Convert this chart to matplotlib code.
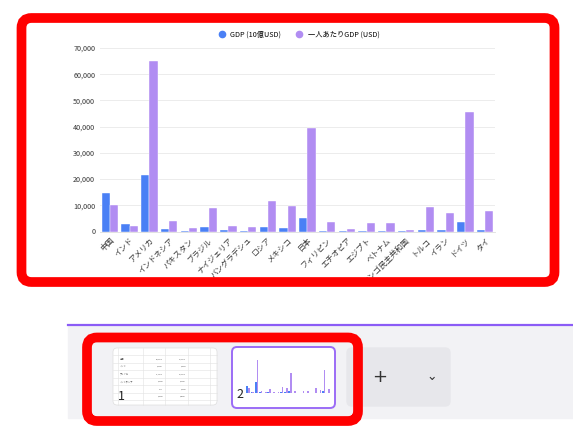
import numpy as np
import matplotlib
matplotlib.use("Agg")
import matplotlib.pyplot as plt
from matplotlib.patches import FancyBboxPatch, Rectangle
from matplotlib.lines import Line2D
from matplotlib.transforms import Affine2D

plt.rcParams["font.family"] = ["Noto Sans CJK JP", "DejaVu Sans"]

countries = ["中国", "インド", "アメリカ", "インドネシア", "パキスタン", "ブラジル",
             "ナイジェリア", "バングラデシュ", "ロシア", "メキシコ", "日本", "フィリピン",
             "エチオピア", "エジプト", "ベトナム", "コンゴ民主共和国", "トルコ", "イラン",
             "ドイツ", "タイ"]
gdp_billion = [14600, 2800, 21400, 1100, 300, 1900, 450, 300, 1700, 1250,
               5000, 380, 100, 300, 260, 50, 760, 500, 3800, 540]
gdp_per_capita = [10200, 1950, 65200, 4100, 1300, 9000, 2100, 1800, 11500, 9900,
                  39500, 3500, 850, 3100, 3400, 580, 9300, 7000, 45600, 7800]
series_labels = ["GDP (10億USD)", "一人あたりGDP (USD)"]
yticks = [0, 10000, 20000, 30000, 40000, 50000, 60000, 70000]

BLUE = "#4a80f5"
PURPLE = "#b18df2"
W, H = 573, 443

fig = plt.figure(figsize=(W / 100, H / 100), dpi=100)
fig.patch.set_facecolor("white")
# pixel coords, origin top-left
px = Affine2D().scale(1, -1).translate(0, H).scale(1 / 100) + fig.dpi_scale_trans


def fx(x):
    return x / W


def fy(y):
    return 1 - y / H


# ---- main chart ----
ax = fig.add_axes([fx(100), fy(231.5), fx(495) - fx(100), fy(48) - fy(231.5)])
x = np.arange(len(countries))
bw = 0.42
ax.bar(x - bw / 2, gdp_billion, bw, color=BLUE, edgecolor="white", linewidth=0.3, zorder=2)
ax.bar(x + bw / 2, gdp_per_capita, bw, color=PURPLE, edgecolor="white", linewidth=0.3, zorder=2)
ax.set_xlim(-0.5, len(countries) - 0.5)
ax.set_ylim(0, 70000)
ax.set_yticks(yticks)
ax.set_yticklabels([f"{v:,}" for v in yticks], fontsize=5.2, color="#333333")
ax.set_xticks(x)
ax.set_xticklabels(countries, fontsize=5.6, color="#333333", rotation=45,
                   ha="right", va="top", rotation_mode="anchor")
ax.tick_params(length=0, pad=3.5)
ax.grid(axis="y", color="#ececec", linewidth=0.7, zorder=0)
for s in ["top", "right", "left"]:
    ax.spines[s].set_visible(False)
ax.spines["bottom"].set_color("#dddddd")
ax.spines["bottom"].set_linewidth(0.6)

handles = [Line2D([], [], marker="o", linestyle="", color=BLUE, markersize=4.5),
           Line2D([], [], marker="o", linestyle="", color=PURPLE, markersize=4.5)]
fig.legend(handles, series_labels, loc="center", bbox_to_anchor=(fx(297), fy(35)),
           ncol=2, frameon=False, fontsize=5.2, handletextpad=0.2,
           columnspacing=1.5, borderpad=0)

# ---- red frame around chart ----
fig.patches.append(FancyBboxPatch((21.5, 18), 533, 264, boxstyle="round,pad=0,rounding_size=10",
                                  transform=px, fill=False, edgecolor="#ff0000",
                                  linewidth=7, zorder=10))
# white mask below frame to clip long labels
fig.patches.append(Rectangle((0, 286), W, 30, transform=px, color="white", zorder=9))

# ---- bottom panel UI ----
fig.patches.append(Rectangle((68, 326), W - 68, 92, transform=px, color="#f2f2f5", zorder=1))
fig.lines.append(Line2D([68, W], [324.5, 324.5], transform=px, color="#8b5cf6",
                        linewidth=1.6, zorder=2))
fig.patches.append(FancyBboxPatch((347, 348), 103, 58, boxstyle="round,pad=0,rounding_size=5",
                                  transform=px, color="#e7e7eb", zorder=2))
fig.text(fx(380), fy(377), "+", fontsize=13, ha="center", va="center", color="#333333",
         family="DejaVu Sans", zorder=3)
fig.text(fx(432), fy(376), "⌄", fontsize=9, ha="center", va="center", color="#333333",
         family="DejaVu Sans", zorder=3)

# thumbnail 1 (table)
fig.patches.append(FancyBboxPatch((113, 348), 104, 57, boxstyle="round,pad=0,rounding_size=4",
                                  transform=px, facecolor="white", edgecolor="#dddddd",
                                  linewidth=0.5, zorder=3))
for yy in np.arange(355, 405, 7.5):
    fig.lines.append(Line2D([113, 217], [yy, yy], transform=px, color="#e2e2e2",
                            linewidth=0.4, zorder=4))
for xx in [118, 143, 165, 188, 210]:
    fig.lines.append(Line2D([xx, xx], [348, 405], transform=px, color="#e2e2e2",
                            linewidth=0.4, zorder=4))
for i, yy in enumerate(np.arange(359, 405, 7.5)[:6]):
    if yy < 385:
        fig.text(fx(120), fy(yy), countries[i], fontsize=1.6, color="#555555", va="center", zorder=5)
    fig.text(fx(163), fy(yy), f"{gdp_billion[i]:,}", fontsize=1.6, color="#555555",
             va="center", ha="right", zorder=5)
    fig.text(fx(186), fy(yy), f"{gdp_per_capita[i]:,}", fontsize=1.6, color="#555555",
             va="center", ha="right", zorder=5)
fig.text(fx(121), fy(396), "1", fontsize=9, ha="center", va="center", color="#222222", zorder=6)

# thumbnail 2 (mini chart)
fig.patches.append(FancyBboxPatch((232, 347), 103, 61, boxstyle="round,pad=0,rounding_size=5",
                                  transform=px, facecolor="white", edgecolor="#9b6cf6",
                                  linewidth=1.4, zorder=3))
mini = fig.add_axes([fx(246), fy(393), fx(330) - fx(246), fy(358) - fy(393)], zorder=4)
mini.bar(x - bw / 2, gdp_billion, bw, color=BLUE)
mini.bar(x + bw / 2, gdp_per_capita, bw, color=PURPLE)
mini.set_xlim(-0.5, len(countries) - 0.5)
mini.set_ylim(0, 70000)
mini.set_xticks([])
mini.set_yticks([])
for s in mini.spines.values():
    s.set_visible(False)
mini.patch.set_alpha(0)
fig.text(fx(240), fy(395), "2", fontsize=9, ha="center", va="center", color="#222222", zorder=6)

# second red frame
fig.patches.append(FancyBboxPatch((87, 337.5), 271, 83.5, boxstyle="round,pad=0,rounding_size=10",
                                  transform=px, fill=False, edgecolor="#ff0000",
                                  linewidth=7, zorder=10))

fig.savefig("out.png", dpi=100)
